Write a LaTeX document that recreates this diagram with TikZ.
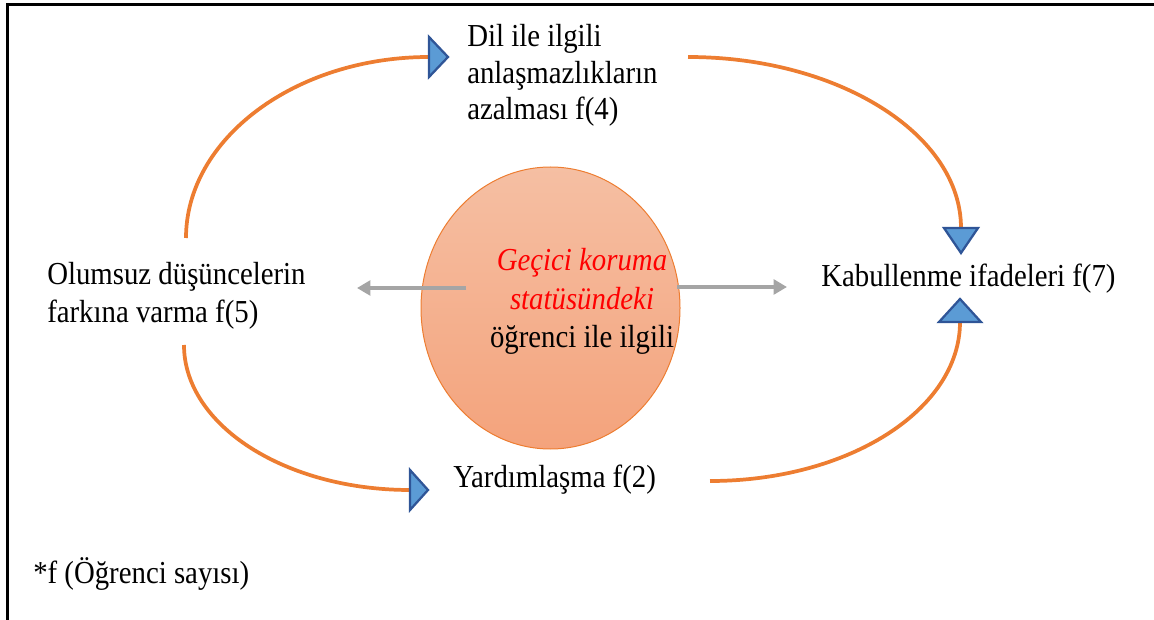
\documentclass[tikz,border=0pt]{standalone}
\usepackage{fontspec}
\setmainfont{Liberation Serif}[FakeStretch=0.9]
\usetikzlibrary{arrows.meta,shapes.geometric}
\definecolor{orangeC}{HTML}{ED7D31}
\definecolor{triFill}{HTML}{5B9BD5}
\definecolor{triDraw}{HTML}{2F5597}
\definecolor{grayC}{HTML}{A5A5A5}
\definecolor{ellTop}{HTML}{F5BFA3}
\definecolor{ellBot}{HTML}{F4A37C}
\begin{document}
\begin{tikzpicture}[x=0.75pt,y=-0.75pt,
  lbl/.style={inner sep=0pt, font=\fontsize{24}{27.4}\selectfont, align=left},
  flow/.style={draw=orangeC, line width=2.8pt},
  tri/.style={fill=triFill, draw=triDraw, line width=1.7pt, line join=miter},
  garrow/.style={draw=grayC, line width=3pt, -{Triangle[length=10pt,width=11pt]}}]
\useasboundingbox (0,0) rectangle (1154,620);
\draw[line width=2.25pt] (7,620) -- (7,5) -- (1154,5);

% central ellipse
\node[ellipse, minimum width=194.25pt, minimum height=211.5pt, inner sep=0pt,
      top color=ellTop, bottom color=ellBot, draw=orangeC, line width=0.75pt]
      (centre) at (550.5,308) {};
\node[lbl, align=center, anchor=base, font=\fontsize{24}{28.9}\selectfont]
      (ctext) at (582,348) {{\color{red}\itshape Geçici koruma}\\{\color{red}\itshape statüsündeki}\\öğrenci ile ilgili};

% labels
\node[lbl, anchor=base west] (dil) at (467,120) {Dil ile ilgili\\anlaşmazlıkların\\azalması f(4)};
\node[lbl, anchor=base west, font=\fontsize{24}{28.5}\selectfont] (olum) at (47,323) {Olumsuz düşüncelerin\\farkına varma f(5)};
\node[lbl, anchor=base west] (kab) at (821,287) {Kabullenme ifadeleri f(7)};
\node[lbl, anchor=base west] (yard) at (453,487) {Yardımlaşma f(2)};
\node[lbl, anchor=base west] (note) at (33,583) {*f (Öğrenci sayısı)};

% gray arrows
\coordinate (gl0) at (466,288);
\coordinate (gl1) at (357,288);
\coordinate (gr0) at (677,287);
\coordinate (gr1) at (787,287);
\draw[garrow] (gl0) -- (gl1);
\draw[garrow] (gr0) -- (gr1);

% orange curves
\coordinate (c1s) at (186,238);
\coordinate (t1b) at (429,57);
\coordinate (c2s) at (688,57);
\coordinate (t2b) at (961,228);
\coordinate (c3s) at (184,345);
\coordinate (t3b) at (410,490);
\coordinate (c4s) at (710,481);
\coordinate (t4b) at (960,322);
\draw[flow] (c1s) .. controls (186,139) and (295,57) .. (t1b);
\draw[flow] (c2s) .. controls (838,57) and (961,134) .. (t2b);
\draw[flow] (c3s) .. controls (184,425) and (285,490) .. (t3b);
\draw[flow] (c4s) .. controls (848,481) and (960,410) .. (t4b);

% triangle heads
\draw[tri] (429,37) -- (448,57) -- (429,77) -- cycle;
\draw[tri] (944,228) -- (978,228) -- (961,253) -- cycle;
\draw[tri] (410,470) -- (428,490) -- (410,510) -- cycle;
\draw[tri] (939,322) -- (981,322) -- (960,299) -- cycle;
\end{tikzpicture}
\end{document}
